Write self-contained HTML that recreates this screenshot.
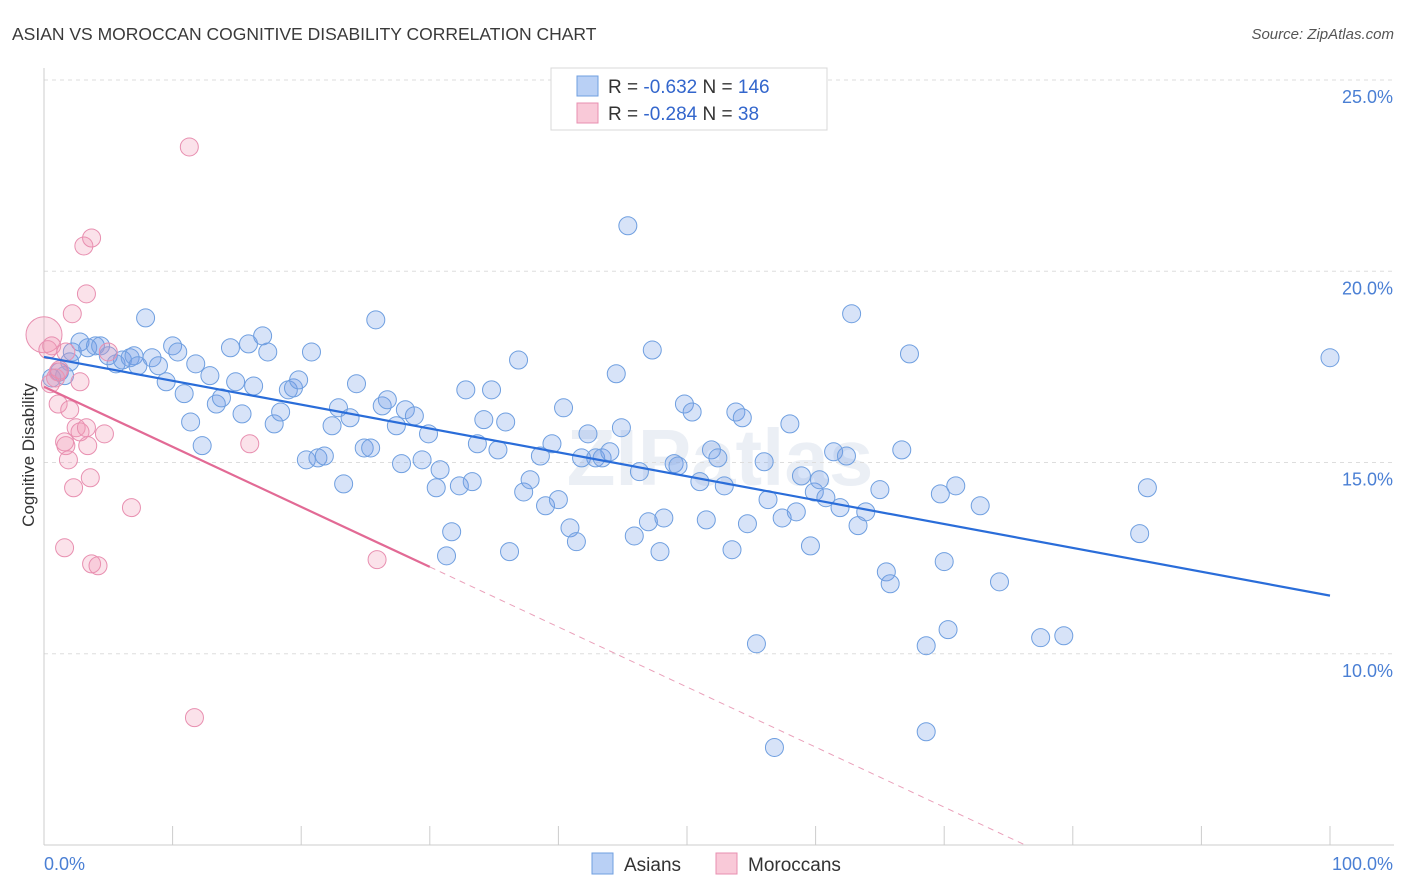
<!DOCTYPE html>
<html><head><meta charset="utf-8"><style>
body{margin:0;background:#fff;font-family:"Liberation Sans",sans-serif;}
svg{display:block}
</style></head><body>
<svg id="chart" width="1406" height="892" viewBox="0 0 1406 892" xmlns="http://www.w3.org/2000/svg">
<text x="12" y="40" font-size="17.5" fill="#3a3a3a">ASIAN VS MOROCCAN COGNITIVE DISABILITY CORRELATION CHART</text>
<text x="1394" y="39" font-size="15" font-style="italic" fill="#555" text-anchor="end">Source: ZipAtlas.com</text>
<text x="34" y="455" font-size="17" fill="#333" text-anchor="middle" transform="rotate(-90 34 455)">Cognitive Disability</text>
<text x="720" y="485" font-size="80" fill="#dfe6f0" text-anchor="middle" font-weight="bold" opacity="0.6">ZIPatlas</text>
<g id="grid"></g>
<g id="marks"></g>
<g id="lines"></g>
<g>
<rect x="551" y="68" width="276" height="62" fill="#fff" stroke="#d8d8d8"/>
<rect x="577" y="76" width="21" height="20" fill="#b9d0f5" stroke="#6f9fe0"/>
<rect x="577" y="103" width="21" height="20" fill="#f9c9d8" stroke="#e88fb0"/>
<text x="608" y="93" font-size="19" fill="#333">R = <tspan fill="#3366cc">-0.632</tspan>   N = <tspan fill="#3366cc">146</tspan></text>
<text x="608" y="120" font-size="19" fill="#333">R = <tspan fill="#3366cc">-0.284</tspan>   N = <tspan fill="#3366cc">  38</tspan></text>
</g>
<g>
<rect x="592" y="853" width="21" height="21" fill="#b9d0f5" stroke="#6f9fe0"/>
<text x="624" y="871" font-size="19" fill="#333">Asians</text>
<rect x="716" y="853" width="21" height="21" fill="#f9c9d8" stroke="#e88fb0"/>
<text x="748" y="871" font-size="19" fill="#333">Moroccans</text>
</g>
</svg>
<script>
const blueX=[1.2,0.6,1.6,2.0,2.2,2.8,3.4,4.0,4.4,5.0,5.6,6.1,6.7,7.0,7.3,7.9,8.4,8.9,9.5,10.0,10.4,10.9,11.4,11.8,12.3,12.9,13.4,13.8,14.5,14.9,15.4,15.9,16.3,17.0,17.4,17.9,18.4,19.0,19.4,19.8,20.4,20.8,21.3,21.8,22.4,22.9,23.3,23.8,24.3,24.9,25.4,25.8,26.3,26.7,27.4,27.8,28.1,28.8,29.4,29.9,30.5,30.8,31.3,31.7,32.3,32.8,33.3,33.7,34.2,34.8,35.3,35.9,36.2,36.9,37.3,37.8,38.6,39.0,39.5,40.0,40.4,40.9,41.4,41.8,42.3,42.9,43.4,44.0,44.5,44.9,45.4,45.9,46.3,47.0,47.3,47.9,48.2,49.0,49.3,49.8,50.4,51.0,51.5,51.9,52.4,52.9,53.5,53.8,54.3,54.7,55.4,56.0,56.3,56.8,57.4,58.0,58.5,58.9,59.6,59.9,60.3,60.8,61.4,61.9,62.4,62.8,63.3,63.9,65.0,65.5,65.8,66.7,67.3,68.6,68.6,69.7,70.0,70.3,70.9,72.8,74.3,77.5,79.3,85.2,85.8,100.0];
const blueY=[17.37,17.21,17.27,17.63,17.89,18.15,18.0,18.05,18.05,17.79,17.58,17.68,17.74,17.79,17.53,18.78,17.74,17.53,17.11,18.05,17.89,16.8,16.06,17.58,15.44,17.27,16.53,16.69,18.0,17.11,16.27,18.1,17.0,18.31,17.89,16.01,16.32,16.9,16.95,17.16,15.07,17.89,15.12,15.17,15.96,16.43,14.44,16.17,17.06,15.38,15.38,18.73,16.48,16.64,15.96,14.97,16.38,16.22,15.07,15.75,14.34,14.81,12.56,13.19,14.39,16.9,14.5,15.49,16.12,16.9,15.33,16.06,12.67,17.68,14.23,14.55,15.17,13.87,15.49,14.03,16.43,13.29,12.93,15.12,15.75,15.12,15.12,15.28,17.32,15.91,21.19,13.08,14.76,13.45,17.94,12.67,13.55,14.97,14.91,16.53,16.32,14.5,13.5,15.33,15.12,14.39,12.72,16.32,16.17,13.4,10.26,15.02,14.03,7.55,13.55,16.01,13.71,14.65,12.82,14.23,14.55,14.08,15.28,13.82,15.17,18.89,13.35,13.71,14.29,12.14,11.83,15.33,17.84,10.21,7.96,14.18,12.41,10.63,14.39,13.87,11.88,10.42,10.47,13.14,14.34,17.74];
const pinkX=[0.0,0.3,0.6,0.9,1.1,0.5,1.1,1.7,2.0,2.2,2.8,3.1,3.7,3.3,2.5,1.6,1.7,1.9,2.3,2.8,3.3,3.4,3.6,4.7,1.6,3.7,4.2,6.8,11.3,11.7,16.0,25.9,5.0,1.2];
const pinkY=[18.34,17.95,18.05,17.21,17.37,17.06,16.53,17.89,16.38,18.89,17.11,20.66,20.87,19.41,15.91,15.54,15.44,15.07,14.34,15.8,15.91,15.44,14.6,15.75,12.77,12.35,12.3,13.82,23.25,8.33,15.49,12.46,17.89,17.42];
const yTicks=[10,15,20,25];
const yTickLabels=["10.0%","15.0%","20.0%","25.0%"];
const xTicks=[0,10,20,30,40,50,60,70,80,90,100];
const blueTrend=[[0,17.76],[100,11.52]];
const pinkTrend=[[0,16.98],[30,12.27],[76.3,5.0]];

const NS="http://www.w3.org/2000/svg";
const X0=44,X1=1330,YT=80,YB=845;
function sx(v){return X0+(X1-X0)*v/100;}
function sy(v){return YT+(25-v)*(YB-YT)/20;}
function mk(tag,attrs,parent){const e=document.createElementNS(NS,tag);for(const k in attrs)e.setAttribute(k,attrs[k]);parent.appendChild(e);return e;}
const grid=document.getElementById('grid'),marks=document.getElementById('marks'),lines=document.getElementById('lines');
yTicks.forEach((t,i)=>{
 const g=mk('line',{x1:X0,x2:1394,y1:sy(t),y2:sy(t),stroke:'#dddddd','stroke-dasharray':'4,4'},grid);
 
 
 const l=mk('text',{x:1393,y:sy(t)+23,'font-size':18,fill:'#4a7fd4','text-anchor':'end'},grid);
 l.textContent=yTickLabels[i];
 
 
});
const ax=mk('line',{x1:X0,x2:X0,y1:68,y2:YB,stroke:'#cccccc'},grid);


const bx=mk('line',{x1:X0,x2:1394,y1:YB,y2:YB,stroke:'#cccccc'},grid);


xTicks.forEach(t=>{
 const tk=mk('line',{x1:sx(t),x2:sx(t),y1:826,y2:YB,stroke:'#cccccc'},grid);
 
 
});
const xl0=mk('text',{x:44,y:870,'font-size':18,fill:'#4a7fd4'},grid);xl0.textContent='0.0%';


const xl1=mk('text',{x:1393,y:870,'font-size':18,fill:'#4a7fd4','text-anchor':'end'},grid);xl1.textContent='100.0%';



blueX.forEach((v,i)=>{
 const c=mk('circle',{cx:sx(v),cy:sy(blueY[i]),r:9,fill:'rgba(110,155,230,0.28)',stroke:'#6f9fe0','stroke-width':1},marks);
 
 
});
pinkX.forEach((v,i)=>{
 const c=mk('circle',{cx:sx(v),cy:sy(pinkY[i]),r:i===0?18:9,fill:'rgba(240,150,180,0.28)',stroke:'#e88fb0','stroke-width':1},marks);
 
 
});
const bl=mk('line',{x1:sx(blueTrend[0][0]),y1:sy(blueTrend[0][1]),x2:sx(blueTrend[1][0]),y2:sy(blueTrend[1][1]),stroke:'#2a6dd9','stroke-width':2.2},lines);


const pl=mk('line',{x1:sx(pinkTrend[0][0]),y1:sy(pinkTrend[0][1]),x2:sx(pinkTrend[1][0]),y2:sy(pinkTrend[1][1]),stroke:'#e26a95','stroke-width':2.2},lines);


const pd=mk('line',{x1:sx(pinkTrend[1][0]),y1:sy(pinkTrend[1][1]),x2:sx(pinkTrend[2][0]),y2:sy(pinkTrend[2][1]),stroke:'#eaa0ba','stroke-width':1,'stroke-dasharray':'6,5'},lines);


</script>
</body></html>
